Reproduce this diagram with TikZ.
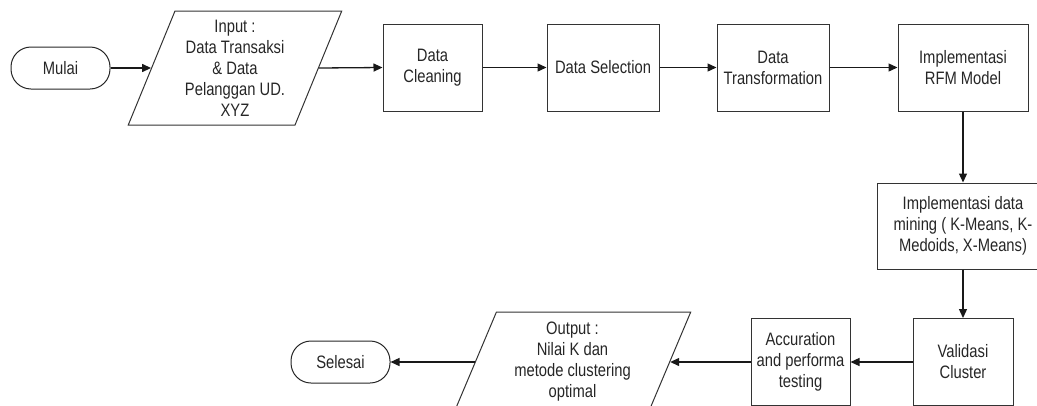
\documentclass[tikz,border=0pt]{standalone}
\usepackage{fontspec}
\setmainfont[FakeStretch=0.82]{Liberation Sans}
\usetikzlibrary{shapes.geometric,arrows.meta}
\begin{document}
\begin{tikzpicture}[x=1pt,y=-1pt,
  every node/.style={font=\fontsize{18}{21}\selectfont, text=black!85, align=center},
  box/.style={draw=black!80, line width=1pt, rectangle, minimum height=87pt, inner sep=2pt},
  term/.style={draw=black!85, line width=1pt, rectangle, rounded corners=20pt, minimum width=99pt, minimum height=42pt},
  io/.style={draw=black!80, line width=1pt, trapezium, trapezium left angle=68, trapezium right angle=112, trapezium stretches=true, inner sep=1pt},
  flow/.style={draw=black!90, line width=1.3pt, -{Triangle[length=9pt,width=8pt]}}]
\useasboundingbox (0,0) rectangle (1037,405);
\node[term] (mulai) at (60.5,68) {Mulai};
\node[io, minimum width=214pt, minimum height=114pt] (in) at (235,68) {Input :\\Data Transaksi\\\& Data\\Pelanggan UD.\\XYZ};
\node[box, minimum width=99pt] (dc) at (432.5,67.5) {Data\\Cleaning};
\node[box, minimum width=112pt] (ds) at (603,67.5) {Data Selection};
\node[box, minimum width=112pt] (dt) at (773,67.5) {Data\\Transformation};
\node[box, minimum width=130pt] (rfm) at (963,67.5) {Implementasi\\RFM Model};
\node[box, minimum width=172pt, minimum height=86pt] (dm) at (963,226) {Implementasi data\\mining ( K-Means, K-\\Medoids, X-Means)};
\node[box, minimum width=100pt] (val) at (963,362) {Validasi\\Cluster};
\node[box, minimum width=99pt] (acc) at (800.5,362) {Accuration\\and performa\\testing};
\node[io, minimum width=237pt, minimum height=100pt] (out) at (572.5,362) {Output :\\Nilai K dan\\metode clustering\\optimal};
\node[term] (sel) at (340.5,362) {Selesai};
\draw[flow] (mulai.east) -- (in.left side);
\draw[flow] (in.right side) -- (dc.west);
\draw[flow] (dc.east) -- (ds.west);
\draw[flow] (ds.east) -- (dt.west);
\draw[flow] (dt.east) -- (rfm.west);
\draw[flow] (rfm.south) -- (dm.north);
\draw[flow] (dm.south) -- (val.north);
\draw[flow] (val.west) -- (acc.east);
\draw[flow] (acc.west) -- (out.right side);
\draw[flow] (out.left side) -- (sel.east);
\end{tikzpicture}
\end{document}
